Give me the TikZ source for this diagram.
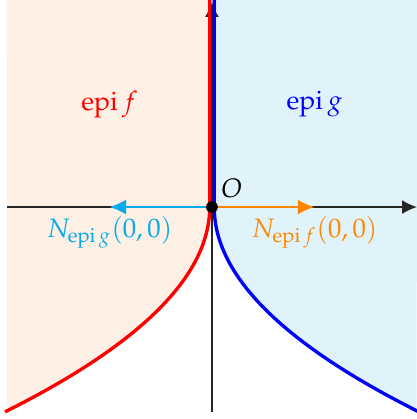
\documentclass[tikz,border=0pt]{standalone}
\usepackage{amsmath}
\usepackage{mathpazo}
\usetikzlibrary{arrows.meta}
\definecolor{epifill}{RGB}{254,240,228}
\definecolor{epigfill}{RGB}{224,243,250}
\definecolor{nfcol}{RGB}{255,135,0}
\definecolor{ngcol}{RGB}{0,170,236}
\tikzset{
  axis/.style={draw=black!85, line width=0.45pt, -{Latex[length=5.6pt,width=5.2pt]}},
  epicurve/.style={line width=1.25pt},
  ncone/.style={-{Latex[length=6.2pt,width=5.6pt]}, line width=0.8pt},
  dot/.style={circle, fill=black, inner sep=0pt, minimum size=4.4pt}
}

\begin{document}
\begin{tikzpicture}[x=2.7cm, y=2.7cm]
  \useasboundingbox (-1.034,-1.034) rectangle (1.0,1.01);
  \coordinate (xl) at (-1,0);
  \coordinate (xr) at (1,0);
  \coordinate (yb) at (0,-1);
  \coordinate (yt) at (0,1);
  \coordinate (nf) at (0.5,0);
  \coordinate (ng) at (-0.5,0);
  % epigraphs
  \fill[epifill] (-1,1.01) -- (0,1.01) -- (0,0)
    -- plot[variable=\t, domain=0:1, samples=60] ({-\t*\t},{-\t}) -- cycle;
  \fill[epigfill] (1,1.01) -- (0,1.01) -- (0,0)
    -- plot[variable=\t, domain=0:1, samples=60] ({\t*\t},{-\t}) -- cycle;
  \draw[axis] (xl) -- (xr);
  \draw[axis] (yb) -- (yt);
  \draw[red, epicurve, xshift=-0.85pt] (0,1.01) -- (0,0)
    -- plot[variable=\t, domain=0:1, samples=60] ({-\t*\t},{-\t});
  \draw[blue, epicurve, xshift=0.85pt] (0,1.01) -- (0,0)
    -- plot[variable=\t, domain=0:1, samples=60] ({\t*\t},{-\t});
  \node[dot] (o) at (0,0) {};
  % normal cones
  \draw[ncone, nfcol] (o) -- (nf);
  \draw[ncone, ngcol] (o) -- (ng);
  \node[above right] (olbl) at (o) {$O$};
  \node[text=red] (epif) at (-0.5,0.5) {$\operatorname{epi} f$};
  \node[text=blue] (epig) at (0.5,0.5) {$\operatorname{epi} g$};
  \node[below, text=nfcol] (nflbl) at (nf) {$N_{\operatorname{epi} f}(0,0)$};
  \node[below, text=ngcol] (nglbl) at (ng) {$N_{\operatorname{epi} g}(0,0)$};
\end{tikzpicture}
\end{document}
